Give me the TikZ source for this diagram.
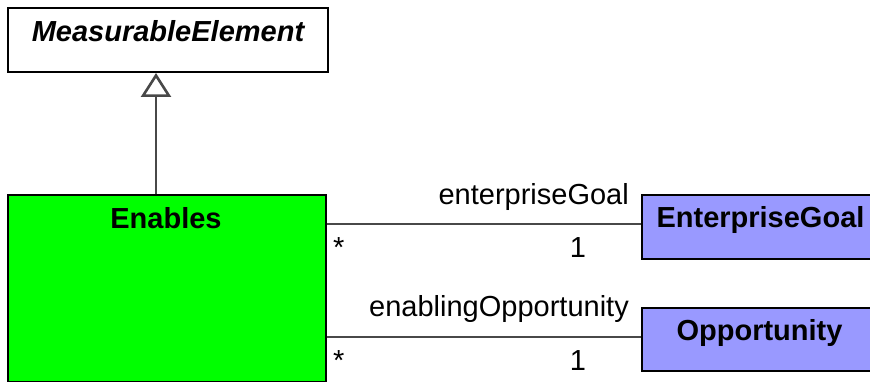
\documentclass[tikz,border=0pt]{standalone}
\usepackage{fontspec}
\setmainfont{Liberation Sans}
\usetikzlibrary{arrows.meta,calc,positioning}
\definecolor{umlgreen}{RGB}{0,255,0}
\definecolor{umlblue}{RGB}{153,153,255}
\definecolor{umlline}{RGB}{72,72,72}

\begin{document}
\begin{tikzpicture}[x=1pt,y=-1pt,
    classbox/.style={draw=black,line width=2pt,inner sep=0pt,anchor=north west},
    classname/.style={font=\bfseries\fontsize{29}{34}\selectfont,anchor=base,inner sep=0pt},
    rolelabel/.style={font=\fontsize{29}{34}\selectfont,inner sep=0pt},
    assoc/.style={draw=umlline,line width=2.6pt}]
    \useasboundingbox (0,0) rectangle (870,382);
    % classes
    \node[classbox,fill=white,minimum width=320pt,minimum height=64pt] (meas) at (7,7) {};
    \node[classbox,fill=umlgreen,minimum width=318pt,minimum height=187pt] (enables) at (7,194) {};
    \node[classbox,fill=umlblue,minimum width=237pt,minimum height=64pt] (entgoal) at (641,194) {};
    \node[classbox,fill=umlblue,minimum width=237pt,minimum height=63pt] (opp) at (641,307) {};
    \node[classname] (measname) at ($(meas.north)+(0,35)$) {\itshape MeasurableElement};
    \node[classname] (enablesname) at ($(enables.north)+(-1,35)$) {Enables};
    \node[classname] (entgoalname) at ($(entgoal.north)+(0,34)$) {EnterpriseGoal};
    \node[classname] (oppname) at ($(opp.north)+(-1,33)$) {Opportunity};
    % generalization
    \coordinate (genfoot) at (156,194);
    \draw[assoc,-{Triangle[open,length=24pt,width=30pt]}] (genfoot) -- (genfoot |- meas.south);
    % associations
    \draw[assoc] ([yshift=3pt]entgoal.west) -- ([yshift=3pt]entgoal.west -| enables.east);
    \draw[assoc] ([yshift=2.5pt]opp.west) -- ([yshift=2.5pt]opp.west -| enables.east);
    \node[rolelabel,anchor=base east] (role1) at (629,205) {enterpriseGoal};
    \node[rolelabel,anchor=base west] (many1) at (333,258) {*};
    \node[rolelabel,anchor=base] (one1) at (578,258) {1};
    \node[rolelabel,anchor=base east] (role2) at (629,316) {enablingOpportunity};
    \node[rolelabel,anchor=base west] (many2) at (333,370) {*};
    \node[rolelabel,anchor=base] (one2) at (578,370) {1};
\end{tikzpicture}
\end{document}
